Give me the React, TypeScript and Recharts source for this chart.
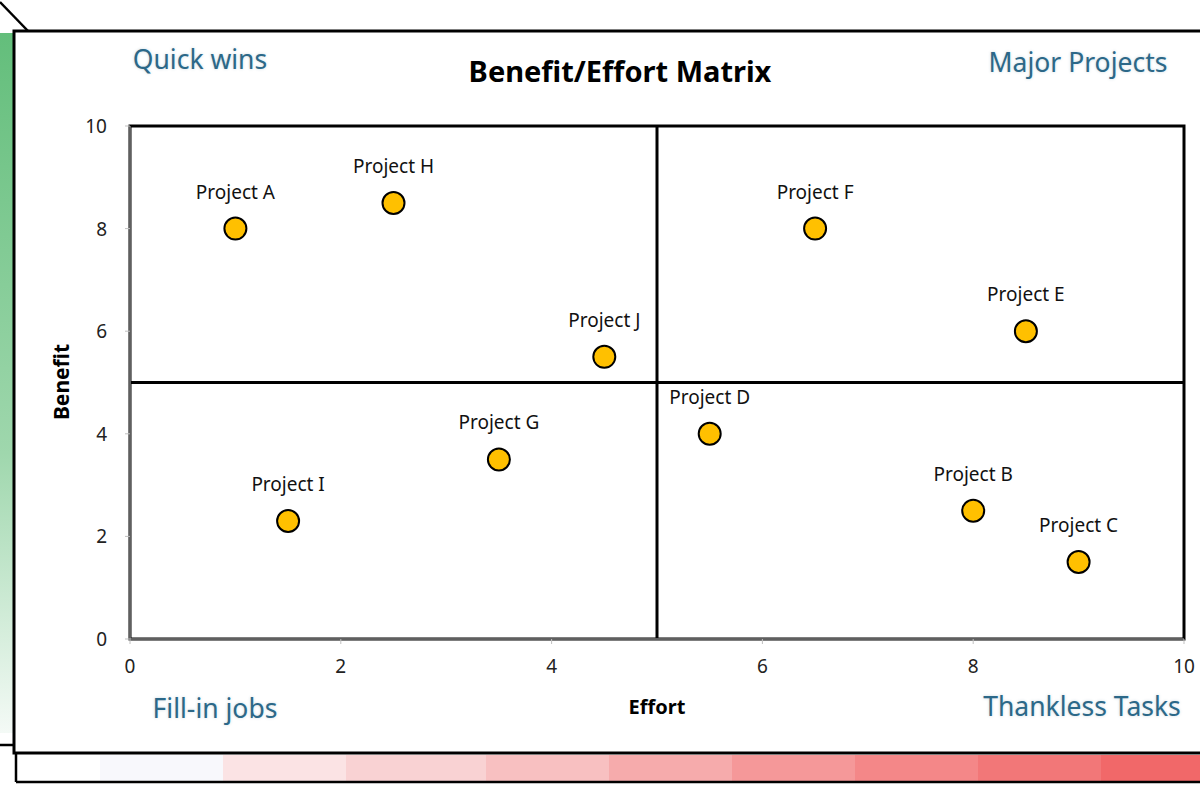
import React from 'react';
import {
  ScatterChart, Scatter, XAxis, YAxis, ReferenceLine, ReferenceArea,
} from 'recharts';

const projects = ['Project A', 'Project B', 'Project C', 'Project D', 'Project E', 'Project F', 'Project G', 'Project H', 'Project I', 'Project J'];
const effort = [1, 8, 9, 5.5, 8.5, 6.5, 3.5, 2.5, 1.5, 4.5];
const benefit = [8, 2.5, 1.5, 4, 6, 8, 3.5, 8.5, 2.3, 5.5];
const axisTicks = [0, 2, 4, 6, 8, 10];

const quadrants = [
  { text: 'Quick wins', x: 200, y: 69 },
  { text: 'Major Projects', x: 1078, y: 72 },
  { text: 'Fill-in jobs', x: 215, y: 718 },
  { text: 'Thankless Tasks', x: 1082, y: 716 },
];

// bottom colour-scale strip (cell edges + colours)
const stripEdges = [16, 100, 223, 346, 486, 609, 732, 855, 978, 1101, 1200];
const stripColors = ['#ffffff', '#f8f8fc', '#fbe3e4', '#f9d2d3', '#f8c0c1', '#f6abac', '#f59899', '#f48788', '#f27778', '#f16869'];

const data = projects.map((name, i) => ({ name, effort: effort[i], benefit: benefit[i] }));

const FONT = '"Noto Sans", "Open Sans", sans-serif';
const QUAD_COLOR = '#2c6888';

const Dot = (props: any) => (
  <g>
    <circle cx={props.cx} cy={props.cy} r={11} fill="#ffc000" stroke="#000" strokeWidth={2} />
    <text x={props.cx} y={props.cy - 30} textAnchor="middle" fontFamily={FONT} fontSize={19} fill="#111">
      {props.payload?.name ?? props.name}
    </text>
  </g>
);

const XTick = (props: any) => (
  <text x={props.x} y={props.y + 27} textAnchor="middle" fontFamily={FONT} fontSize={19} fill="#222">
    {props.payload.value}
  </text>
);

const YTick = (props: any) => (
  <text x={107} y={props.y + 7} textAnchor="end" fontFamily={FONT} fontSize={19} fill="#222">
    {props.payload.value}
  </text>
);

function Backdrop() {
  return (
    <svg width={1200} height={800} style={{ position: 'absolute', left: 0, top: 0 }}>
      <defs>
        <linearGradient id="greenStrip" x1="0" y1="0" x2="0" y2="1">
          <stop offset="0%" stopColor="#63be7b" />
          <stop offset="60%" stopColor="#9fd7ad" />
          <stop offset="100%" stopColor="#f4faf6" />
        </linearGradient>
      </defs>
      <rect x={0} y={0} width={1200} height={800} fill="#fff" />
      <rect x={0} y={33} width={13} height={700} fill="url(#greenStrip)" />
      {stripColors.map((c, i) => (
        <rect key={i} x={stripEdges[i]} y={755} width={stripEdges[i + 1] - stripEdges[i]} height={26} fill={c} />
      ))}
    </svg>
  );
}

function Overlay() {
  return (
    <svg width={1200} height={800} style={{ position: 'absolute', left: 0, top: 0, pointerEvents: 'none' }}>
      <line x1={0} y1={2} x2={28} y2={31} stroke="#000" strokeWidth={2.5} />
      <rect x={14} y={31} width={1200} height={722} fill="none" stroke="#000" strokeWidth={3} />
      <line x1={0} y1={745} x2={14} y2={745} stroke="#000" strokeWidth={2.5} />
      <line x1={16} y1={753} x2={16} y2={782} stroke="#000" strokeWidth={2.5} />
      <line x1={16} y1={782} x2={1200} y2={782} stroke="#000" strokeWidth={2.5} />
      <text x={620} y={82} textAnchor="middle" fontFamily={FONT} fontWeight="bold" fontSize={29} fill="#000">
        Benefit/Effort Matrix
      </text>
      {quadrants.map((q) => (
        <text key={q.text} x={q.x} y={q.y} textAnchor="middle" fontFamily={FONT} fontSize={26.5} fill={QUAD_COLOR}
          style={{ textShadow: '0 0 3px rgba(44,104,136,0.25)' }}>
          {q.text}
        </text>
      ))}
      <text x={657} y={714} textAnchor="middle" fontFamily={FONT} fontWeight="bold" fontSize={20} fill="#000">Effort</text>
      <text x={62} y={382} textAnchor="middle" fontFamily={FONT} fontWeight="bold" fontSize={21} fill="#000"
        transform="rotate(-90 62 382)" dy={7}>Benefit</text>
    </svg>
  );
}

export default function App() {
  return (
    <div style={{ position: 'absolute', left: 0, top: 0, width: 1200, height: 800, background: '#fff' }}>
      <Backdrop />
      <div style={{ position: 'absolute', left: 0, top: 0 }}>
        <ScatterChart width={1200} height={800} margin={{ top: 126, right: 16, bottom: 131, left: 70 }}>
          <XAxis
            type="number" dataKey="effort" domain={[0, 10]} ticks={axisTicks} height={30}
            stroke="#bfbfbf" tickSize={5} tick={<XTick />}
          />
          <YAxis
            type="number" dataKey="benefit" domain={[0, 10]} ticks={axisTicks} width={60}
            stroke="#bfbfbf" tickSize={5} tick={<YTick />}
          />
          <ReferenceArea x1={0} x2={10} y1={0} y2={10} fill="none" stroke="#000" strokeWidth={3} />
          <ReferenceLine x={5} stroke="#000" strokeWidth={3} />
          <ReferenceLine y={5} stroke="#000" strokeWidth={3} />
          <Scatter data={data} shape={Dot} isAnimationActive={false} />
        </ScatterChart>
      </div>
      <Overlay />
    </div>
  );
}
